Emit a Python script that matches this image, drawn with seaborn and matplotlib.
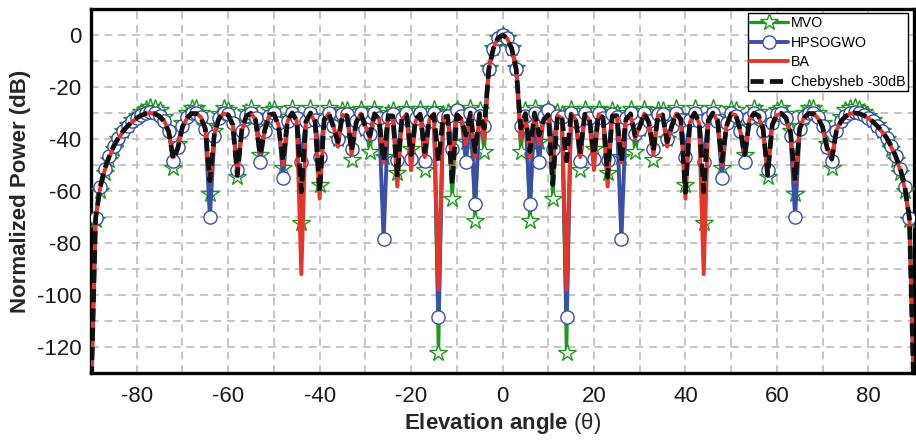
import matplotlib
matplotlib.use("Agg")
import matplotlib.pyplot as plt
import seaborn as sns
import pandas as pd
from matplotlib import font_manager
from matplotlib.ticker import MultipleLocator

# ---------------- data (theta = 0..90 deg, pattern is symmetric) ----------------
theta_half = list(range(0, 91))

mvo_half = [0, -1.0, -5.0, -12.5, -45.0, -29.0, -71.5, -28.0, -41.0, -31.0,
            -28.5, -63.0, -29.5, -30.5, -122.4, -28.5, -31.5, -52.0, -28.5, -31.0,
            -44.0, -28.5, -31.0, -53.0, -29.0, -30.0, -47.0, -31.0, -28.5, -45.0,
            -36.0, -28.5, -32.0, -48.0, -29.0, -29.0, -40.0, -34.0, -28.0, -31.0,
            -57.7, -31.5, -28.0, -32.0, -72.4, -31.0, -28.0, -31.5, -51.0, -33.0,
            -28.5, -29.0, -35.5, -46.0, -31.0, -28.0, -29.5, -35.0, -54.5, -33.0,
            -29.0, -28.0, -30.5, -37.0, -61.0, -35.0, -30.0, -28.0, -28.0, -30.0,
            -34.0, -42.0, -51.0, -36.0, -31.5, -29.0, -28.0, -27.5, -28.5, -29.5,
            -31.0, -32.5, -34.5, -37.0, -40.0, -44.0, -48.0, -53.0, -60.0, -71.0,
            -140]

hpsogwo_half = [0, -1.3, -5.5, -13.0, -35.0, -31.0, -65.0, -30.0, -49.0, -31.0,
                -29.0, -44.0, -31.0, -31.5, -108.3, -30.0, -33.0, -48.5, -30.0, -32.0,
                -47.5, -30.0, -32.0, -48.0, -30.5, -31.5, -78.6, -32.0, -30.0, -38.0,
                -36.0, -30.0, -33.0, -44.0, -30.5, -30.5, -40.0, -35.0, -30.0, -32.5,
                -47.0, -32.5, -30.0, -33.0, -49.0, -32.0, -30.0, -33.0, -55.0, -34.0,
                -30.0, -31.0, -37.0, -49.0, -32.0, -30.0, -31.0, -37.0, -52.0, -34.0,
                -30.5, -30.0, -32.0, -39.0, -70.0, -36.0, -31.5, -30.0, -30.0, -31.5,
                -35.0, -43.0, -48.5, -37.0, -33.0, -31.0, -30.0, -29.8, -30.0, -30.8,
                -31.8, -33.0, -35.0, -37.0, -39.5, -42.5, -46.5, -51.5, -58.5, -70.5,
                -140]

ba_half = [0, -1.2, -5.1, -13.0, -40.0, -30.5, -47.0, -30.2, -42.0, -32.0,
           -30.5, -50.0, -31.0, -32.0, -98.0, -30.2, -32.5, -47.0, -30.3, -33.0,
           -52.0, -30.5, -32.5, -58.3, -31.0, -31.2, -49.0, -32.0, -30.5, -40.0,
           -35.0, -30.2, -34.0, -46.0, -31.0, -30.8, -43.0, -34.5, -30.2, -33.0,
           -63.0, -33.5, -30.2, -34.0, -92.0, -33.0, -30.2, -33.0, -50.0, -34.5,
           -30.3, -30.8, -37.0, -45.5, -32.5, -30.2, -31.2, -37.0, -54.0, -34.0,
           -30.8, -30.2, -32.0, -38.0, -56.5, -35.5, -31.5, -30.2, -30.3, -32.0,
           -35.5, -43.0, -47.0, -37.0, -33.0, -31.2, -30.3, -30.0, -30.3, -31.0,
           -32.0, -33.5, -35.2, -37.2, -39.8, -43.0, -47.0, -52.0, -59.0, -71.0,
           -140]

cheb_half = [0, -1.2, -5.2, -13.2, -35.8, -30.2, -44.8, -30.0, -38.5, -32.8,
             -30.7, -57.5, -31.2, -31.6, -48.4, -30.6, -32.3, -44.9, -30.5, -32.3,
             -46.0, -30.7, -31.8, -54.6, -31.2, -31.0, -48.5, -32.5, -30.3, -38.7,
             -35.4, -30.0, -33.6, -44.6, -31.1, -30.7, -41.0, -35.2, -30.1, -32.4,
             -60.5, -33.0, -30.0, -33.3, -60.3, -32.9, -30.0, -32.5, -48.5, -35.0,
             -30.3, -30.7, -36.5, -46.0, -32.9, -30.1, -31.0, -36.1, -53.9, -34.6,
             -30.7, -30.1, -31.9, -37.6, -56.1, -36.1, -31.8, -30.2, -30.2, -31.8,
             -35.3, -43.5, -47.8, -37.2, -33.3, -31.3, -30.3, -30.0, -30.2, -30.9,
             -31.9, -33.3, -35.0, -37.0, -39.5, -42.6, -46.6, -51.4, -58.4, -70.5,
             -140]

series_names = ["MVO", "HPSOGWO", "BA", "Chebysheb -30dB"]
xtick_values = [-80, -60, -40, -20, 0, 20, 40, 60, 80]
xtick_labels = ["-80", "-60", "-40", "-20", "0", "20", "40", "60", "80"]
ytick_values = [-120, -100, -80, -60, -40, -20, 0]
ytick_labels = ["-120", "-100", "-80", "-60", "-40", "-20", "0"]


def mirror(v):
    return list(v[:0:-1]) + list(v)


theta = [-t for t in theta_half[:0:-1]] + theta_half
df = pd.DataFrame({
    "theta": theta,
    "MVO": mirror(mvo_half),
    "HPSOGWO": mirror(hpsogwo_half),
    "BA": mirror(ba_half),
    "CHEB": mirror(cheb_half),
})

# ---------------- style ----------------
sns.set_theme(style="white")
names = {f.name for f in font_manager.fontManager.ttflist}
base = "Liberation Sans" if "Liberation Sans" in names else "DejaVu Sans"
narrow = "Liberation Sans Narrow" if "Liberation Sans Narrow" in names else base
plt.rcParams["font.family"] = [base, "DejaVu Sans"]
plt.rcParams["mathtext.fontset"] = "custom"
plt.rcParams["mathtext.rm"] = base

fig = plt.figure(figsize=(9.16, 4.40), dpi=100)
ax = fig.add_axes([91 / 916, 1 - 373 / 440, (914 - 91) / 916, (373 - 9) / 440])

green = "#1b9a1b"
blue = "#3b4ea8"
red = "#e6352a"
black = "#111111"

sns.lineplot(data=df, x="theta", y="MVO", ax=ax, color=green, linewidth=2.4,
             marker="*", markersize=13, markerfacecolor="white",
             markeredgecolor=green, markeredgewidth=1.0, label=series_names[0],
             zorder=3)
sns.lineplot(data=df, x="theta", y="HPSOGWO", ax=ax, color=blue, linewidth=2.8,
             marker="o", markersize=9.5, markerfacecolor="white",
             markeredgecolor=blue, markeredgewidth=1.0, label=series_names[1],
             zorder=4)
sns.lineplot(data=df, x="theta", y="BA", ax=ax, color=red, linewidth=2.8,
             label=series_names[2], zorder=5)
sns.lineplot(data=df, x="theta", y="CHEB", ax=ax, color=black, linewidth=3.4,
             linestyle=(0, (2.8, 1.3)), label=series_names[3], zorder=6)

ax.set_xlim(-90, 90)
ax.set_ylim(-130, 10)
ax.set_xticks(xtick_values)
ax.set_xticklabels(xtick_labels, fontfamily=[narrow, "DejaVu Sans"], fontsize=16)
ax.set_yticks(ytick_values)
ax.set_yticklabels(ytick_labels, fontsize=16)
ax.xaxis.set_minor_locator(MultipleLocator(10))
ax.yaxis.set_minor_locator(MultipleLocator(10))

ax.grid(True, which="both", color="#c4c4c4", linestyle=(0, (4, 3)), linewidth=1.4)
ax.set_axisbelow(True)

for s in ax.spines.values():
    s.set_visible(True)
    s.set_color("black")
    s.set_linewidth(2.4)

ax.tick_params(which="major", direction="out", length=5, width=1.8,
               colors="black", labelcolor="#1a1a1a", pad=2)
ax.tick_params(which="minor", direction="out", length=3.5, width=1.5, colors="black")
ax.tick_params(axis="x", which="major", pad=4)

ax.set_xlabel(r"Elevation angle $\mathrm{(θ)}$", fontsize=16, fontweight="bold",
              labelpad=3)
ax.set_ylabel("Normalized Power (dB)", fontsize=16, fontweight="bold", labelpad=4)

handles, labels = ax.get_legend_handles_labels()
leg = ax.legend(handles, labels, loc="upper right", bbox_to_anchor=(0.9927, 0.988),
                borderaxespad=0, frameon=True, fancybox=False, edgecolor="black",
                framealpha=1, fontsize=10.3, handlelength=2.6, handletextpad=0.2,
                borderpad=0.2, labelspacing=0.38)
leg.get_frame().set_linewidth(1.0)
leg.set_zorder(10)
for t in leg.get_texts():
    t.set_color("black")

fig.savefig("out.png", dpi=100)
